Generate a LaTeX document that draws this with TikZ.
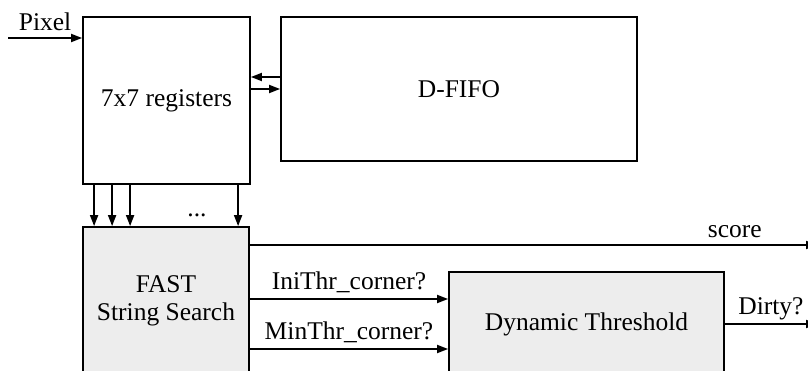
\documentclass[tikz,border=0pt]{standalone}
\usepackage{fontspec}
\setmainfont{Liberation Serif}
\usetikzlibrary{arrows.meta, positioning}
\definecolor{cfill}{HTML}{EDEDED}
\tikzset{
  every picture/.style={line width=1.8pt},
  block/.style={draw=black, fill=#1, align=center, inner sep=0pt, font=\fontsize{25.5}{28}\selectfont},
  block/.default=white,
  arrow/.style={-{Triangle[length=11pt, width=8pt]}, draw=black, line width=1.8pt},
  sig/.style={font=\fontsize{25.5}{28}\selectfont, inner sep=0pt},
}

\begin{document}
\begin{tikzpicture}[x=1pt, y=-1pt]
  \useasboundingbox (0,0) rectangle (808,371);
  % window buffer
  \node[block, minimum width=167pt, minimum height=167pt] (regs) at (166.5,100.5) {7x7 registers};
  \node[block, minimum width=356pt, minimum height=144pt] (fifo) at (459,89) {D-FIFO};
  \coordinate (pin) at (8,38);
  \draw[arrow] (pin) -- node[sig, above=6pt] {Pixel} (pin -| regs.west);
  \draw[arrow] ([yshift=12pt]fifo.west) -- ([yshift=12pt]fifo.west -| regs.east);
  \draw[arrow] (fifo.west -| regs.east) -- (fifo.west);
  % detection
  \node[block=cfill, minimum width=166pt, minimum height=148pt] (fast) at (166,301) {FAST\\String Search};
  \node[block=cfill, minimum width=275pt, minimum height=104pt] (dyn) at (586.5,324) {Dynamic Threshold};
  \foreach \d in {12,30,48,156}
    \draw[arrow] ([xshift=\d pt]regs.south west) -- ([xshift=\d pt]fast.north west);
  \node[sig, anchor=base] (dots) at (197,217) {...};
  % outputs
  \coordinate (scoreout) at (817,245);
  \coordinate (dirtyout) at (817,324);
  \coordinate (iniin) at ([yshift=25pt]dyn.west);
  \coordinate (minin) at ([yshift=-25pt]dyn.west);
  \draw[arrow] (fast.east |- scoreout) -- node[sig, above=6pt, pos=0.855] {score} (scoreout);
  \draw[arrow] (fast.east |- iniin) -- node[sig, above=5pt] {IniThr\_corner?} (iniin);
  \draw[arrow] (fast.east |- minin) -- node[sig, above=5pt] {MinThr\_corner?} (minin);
  \draw[arrow] (dyn.east) -- node[sig, above=3pt] {Dirty?} (dirtyout);
\end{tikzpicture}
\end{document}
